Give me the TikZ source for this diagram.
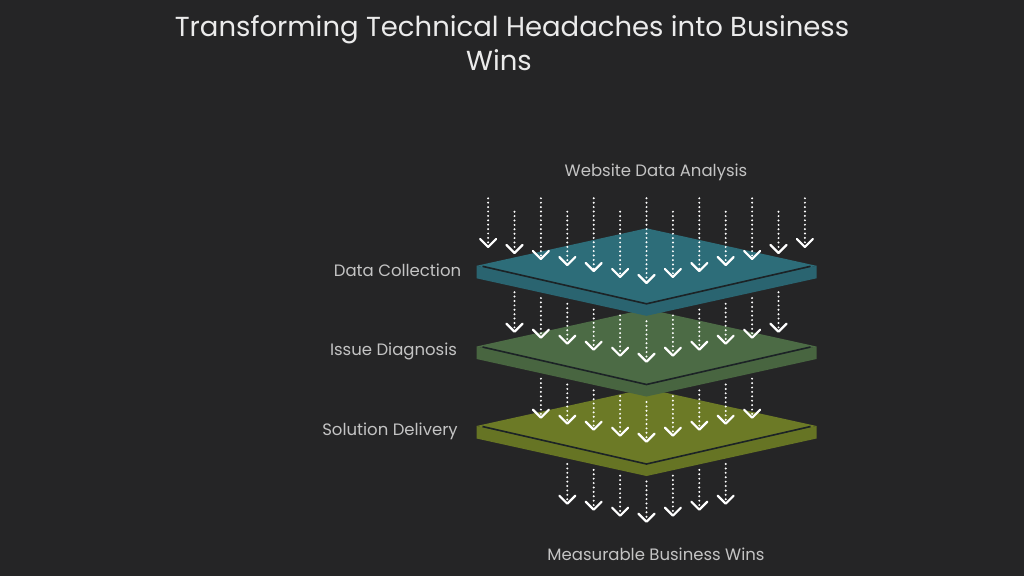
\documentclass[tikz,border=0pt]{standalone}
\usepackage{fontspec}
\setmainfont{Poppins}
\definecolor{bgc}{HTML}{252526}
\definecolor{titlec}{HTML}{EBEBEB}
\definecolor{labelc}{HTML}{C4C4C4}
\definecolor{tealtop}{HTML}{2D6D79}
\definecolor{tealside}{HTML}{2A6470}
\definecolor{greentop}{HTML}{4C6B45}
\definecolor{greenside}{HTML}{486540}
\definecolor{olivetop}{HTML}{6C7A26}
\definecolor{oliveside}{HTML}{667424}
\definecolor{edgec}{HTML}{1C2326}
\begin{document}
\begin{tikzpicture}[x=1pt,y=-1pt,line join=round]
\tikzset{
  titletext/.style={text=titlec,inner sep=0pt,anchor=base,font=\fontsize{27.5}{33}\selectfont},
  labeltext/.style={text=labelc,inner sep=0pt,anchor=base,font=\fontsize{16.5}{20}\selectfont},
  shaft/.style={draw=white,line width=2.2pt,line cap=round,dash pattern=on 0pt off 4.4pt},
  vhead/.style={draw=white,line width=2.2pt,line cap=round,line join=round},
  edgeline/.style={draw=edgec,line width=1.6pt}
}
\fill[bgc] (0,0) rectangle (1024,576);
\useasboundingbox (0,0) rectangle (1024,576);

% plates (bottom first)
\def\cx{646.5}\def\hw{170}\def\hh{37.5}\def\th{12.5}
\foreach \cy/\tc/\sc in {426/olivetop/oliveside, 346.5/greentop/greenside, 265.8/tealtop/tealside}{
  \fill[\sc] (\cx-\hw,\cy) -- (\cx,\cy+\hh) -- (\cx+\hw,\cy) -- (\cx+\hw,\cy+\th) -- (\cx,\cy+\hh+\th) -- (\cx-\hw,\cy+\th) -- cycle;
  \fill[\tc] (\cx-\hw,\cy) -- (\cx,\cy-\hh) -- (\cx+\hw,\cy) -- (\cx,\cy+\hh) -- cycle;
  \draw[edgeline] (\cx-\hw+6,\cy+0.5) -- (\cx,\cy+\hh+0.5) -- (\cx+\hw-6,\cy+0.5);
}

% arrows
\foreach \k/\imin/\imax/\tcen/\pc in {a/0/12/283/0, b/1/11/361.7/265.8, c/2/10/441.7/346.5, d/3/9/521.7/426}{
  \foreach \i in {\imin,...,\imax}{
    \pgfmathsetmacro{\xx}{646.5+26.4*(\i-6)}
    \pgfmathsetmacro{\ty}{\tcen-6*abs(\i-6)}
    \pgfmathsetmacro{\sy}{\pc==0 ? (mod(\i,2)==1 ? 211.7 : 198.3) : (\pc+18+37.5*(1-abs(\i-6)*26.4/170))}
    \coordinate (s\k\i) at (\xx,\sy);
    \coordinate (t\k\i) at (\xx,\ty);
    \draw[shaft] (s\k\i) -- ([shift={(0,-2)}]t\k\i);
    \draw[vhead] ([shift={(-8,-8)}]t\k\i) -- (t\k\i) -- ([shift={(8,-8)}]t\k\i);
  }
}

% texts
\node[titletext] (title1) at (512,36.7) {Transforming Technical Headaches into Business};
\node[titletext] (title2) at (499,70) {Wins};
\node[labeltext] (top) at (656,176.7) {Website Data Analysis};
\node[labeltext] (l1) at (397.5,276) {Data Collection};
\node[labeltext] (l2) at (393.5,355) {Issue Diagnosis};
\node[labeltext] (l3) at (390,435) {Solution Delivery};
\node[labeltext] (bot) at (656,560) {Measurable Business Wins};
\end{tikzpicture}
\end{document}
